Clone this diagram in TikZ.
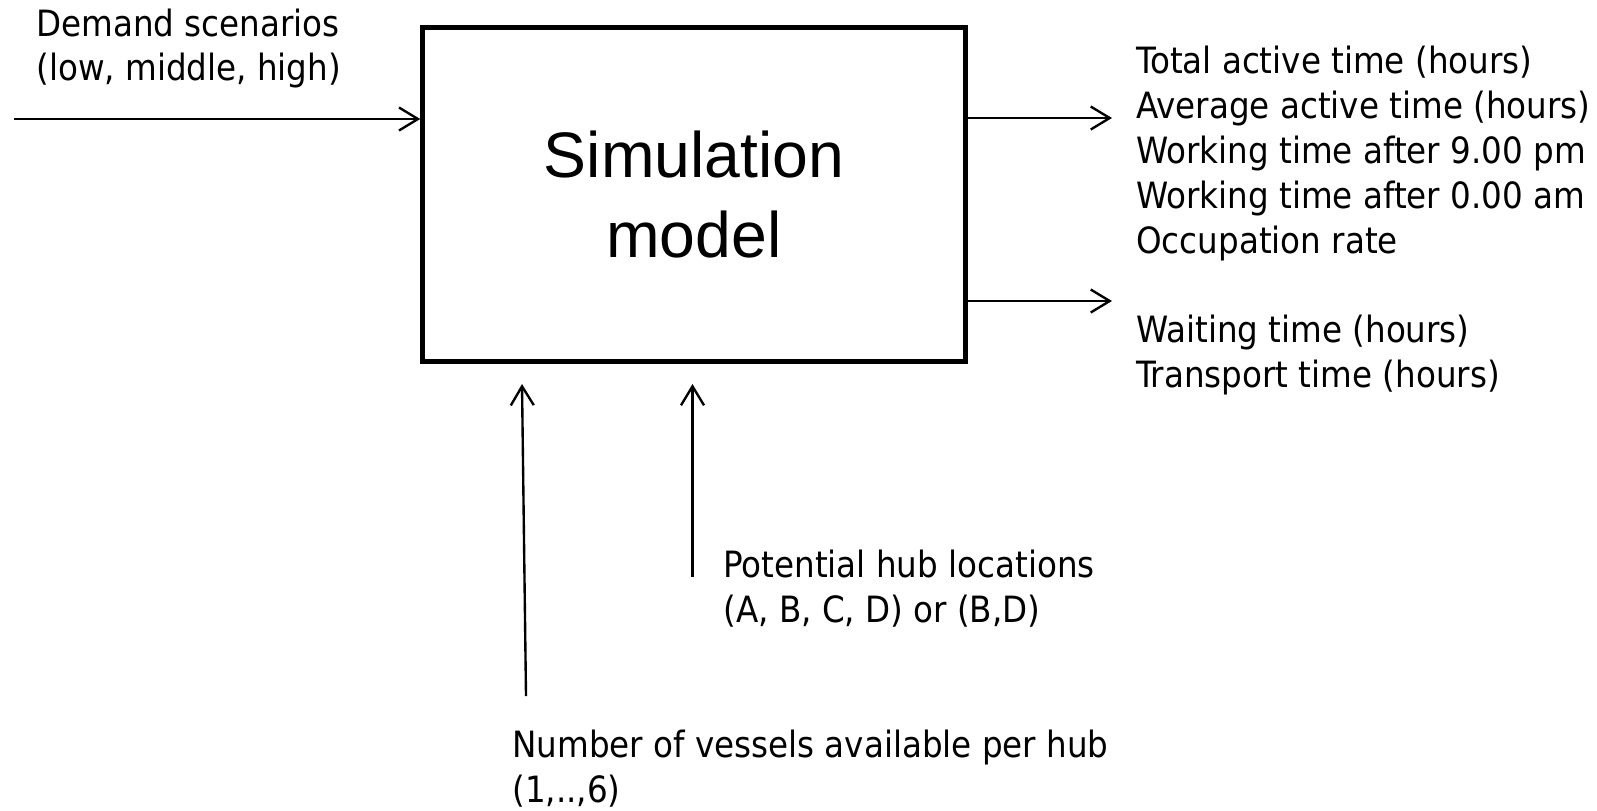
\documentclass[tikz,border=0pt]{standalone}
\usepackage{fontspec}
\setmainfont{DejaVu Sans Condensed}
\newfontfamily\boxfont{Liberation Sans}
\usetikzlibrary{arrows.meta}
\tikzset{
    lbl/.style={anchor=west, align=left, inner sep=0pt, font=\fontsize{20.6}{25.6}\selectfont},
    pfeil/.style={line width=1.35pt, -{Straight Barb[length=0.38cm, width=0.46cm]}},
    modelbox/.style={draw, line width=2.8pt, minimum width=10.85cm, minimum height=6.68cm, align=center, inner sep=0pt, font=\boxfont\fontsize{36.6}{45}\selectfont}
}
\begin{document}
\begin{tikzpicture}[x=0.2mm, y=-0.2mm]
    \useasboundingbox (0,0) rectangle (1597,810);

    % box
    \node[modelbox] (sim) at (694,194.5) {Simulation\\model};

    % labels
    \node[lbl] (demand) at (36,48.5) {Demand scenarios\\(low, middle, high)};
    \node[lbl] (outa) at (1136,153.5) {Total active time (hours)\\Average active time (hours)\\Working time after 9.00 pm\\Working time after 0.00 am\\Occupation rate};
    \node[lbl] (outb) at (1136,355) {Waiting time (hours)\\Transport time (hours)};
    \node[lbl] (hubs) at (723,588.5) {Potential hub locations\\(A, B, C, D) or (B,D)};
    \node[lbl] (vessels) at (512,768.5) {Number of vessels available per hub\\(1,..,6)};

    % arrow ends
    \coordinate (demandin) at (14,119);
    \coordinate (outaend) at (1112,118);
    \coordinate (outbend) at (1112,301);
    \coordinate (vesselsfoot) at (526,696);
    \coordinate (vesselstip) at (522,384);
    \coordinate (hubsfoot) at (692.5,577);
    \coordinate (hubstip) at (692.5,384);

    \draw[pfeil] (demandin) -- (demandin -| sim.west);
    \draw[pfeil] (sim.east |- outaend) -- (outaend);
    \draw[pfeil] (sim.east |- outbend) -- (outbend);
    \draw[pfeil] (vesselsfoot) -- (vesselstip);
    \draw[pfeil] (hubsfoot) -- (hubstip);

\end{tikzpicture}
\end{document}
